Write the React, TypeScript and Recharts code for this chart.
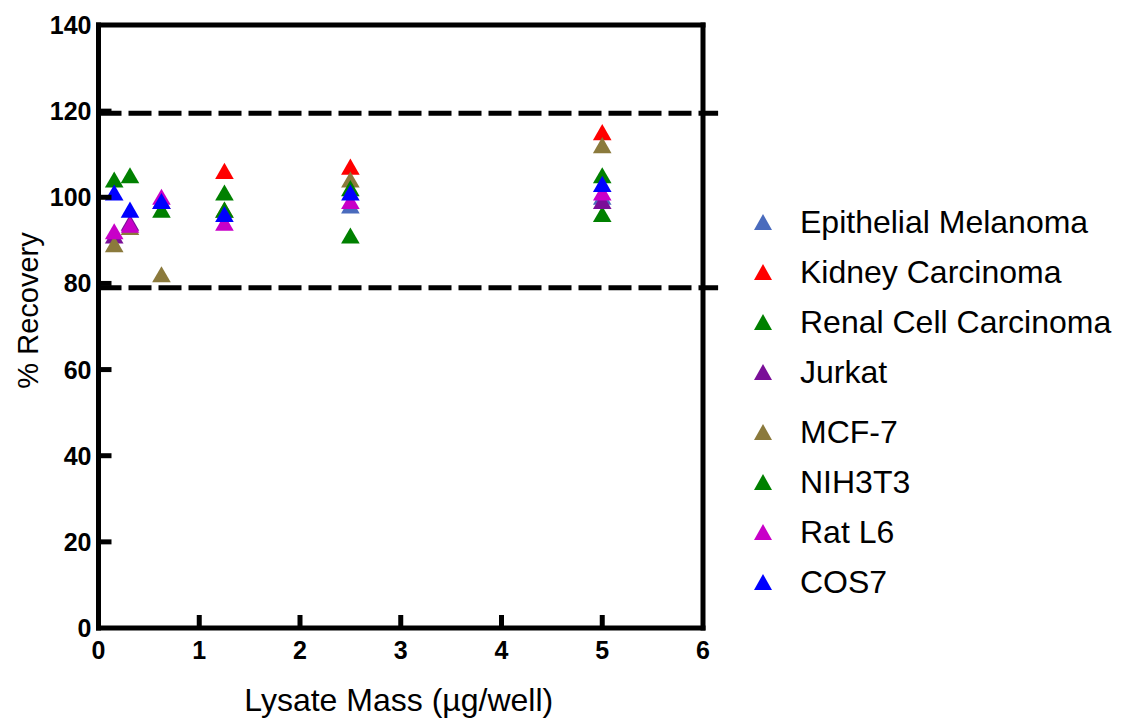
import React from "react";
import {
  ScatterChart,
  Scatter,
  XAxis,
  YAxis,
  Legend,
  ReferenceLine,
  Symbols,
} from "recharts";

// lysate mass per well (µg) used in the dilution series
const masses = [0.156, 0.3125, 0.625, 1.25, 2.5, 5];

const xTicks = [0, 1, 2, 3, 4, 5, 6];
const yTicks = [0, 20, 40, 60, 80, 100, 120, 140];

// acceptance limits drawn as dashed lines
const upperLimit = 119.5;
const lowerLimit = 79;

// % recovery per cell line (null = not measured at that mass)
const epithelialMelanoma = [null, null, null, null, 97.5, 99.5];
const kidneyCarcinoma = [null, null, null, 105.5, 106.5, 114.5];
const renalCellCarcinoma = [null, null, null, 100.5, 90.5, 95.5];
const jurkat = [90.5, 93.5, 98.5, null, null, 98.5];
const mcf7 = [88.5, 92.5, 81.5, 96.5, 103.5, 111.5];
const nih3t3 = [103.5, 104.5, 96.5, 96.5, 101.5, 104.5];
const ratL6 = [91.5, 93, 99.5, 93.5, 98.5, 100.5];
const cos7 = [100.5, 96.5, 98.5, 95.5, 100.5, 102.5];

const series = [
  { name: "Epithelial Melanoma", values: epithelialMelanoma, color: "#4a6bbd" },
  { name: "Kidney Carcinoma", values: kidneyCarcinoma, color: "#ff0000" },
  { name: "Renal Cell Carcinoma", values: renalCellCarcinoma, color: "#008000" },
  { name: "Jurkat", values: jurkat, color: "#7a0f98" },
  { name: "MCF-7", values: mcf7, color: "#8b7a3c" },
  { name: "NIH3T3", values: nih3t3, color: "#008000" },
  { name: "Rat L6", values: ratL6, color: "#c800c8" },
  { name: "COS7", values: cos7, color: "#0000ff" },
];
const seriesOrder = series.map((s) => s.name);

const FONT = "'Liberation Sans', Arial, sans-serif";
const TICK_FONT = "'Liberation Sans Narrow', 'Arial Narrow', 'Liberation Sans', Arial, sans-serif";

const toPoints = (values: (number | null)[]) =>
  masses
    .map((x, i) => ({ x, y: values[i] }))
    .filter((p) => p.y !== null);

// triangle marker, roughly 18px wide like the GraphPad symbols
const Triangle = (props: any) => (
  <Symbols type="triangle" size={150} cx={props.cx} cy={props.cy} fill={props.fill} />
);

const XTick = (props: any) => {
  const { x, y, payload } = props;
  const v = payload.value;
  return (
    <g>
      {v !== 0 && v !== 6 && (
        <line x1={x} y1={y} x2={x} y2={y - 13} stroke="#000" strokeWidth={5} />
      )}
      <text
        x={x}
        y={y + 31}
        textAnchor="middle"
        fontFamily={TICK_FONT}
        fontWeight="bold"
        fontSize={25}
        fill="#000"
      >
        {v}
      </text>
    </g>
  );
};

const YTick = (props: any) => {
  const { x, y, payload } = props;
  const v = payload.value;
  return (
    <g>
      {v !== 0 && v !== 140 && (
        <line x1={x} y1={y} x2={x + 13} y2={y} stroke="#000" strokeWidth={5} />
      )}
      <text
        x={x - 7}
        y={y + 9}
        textAnchor="end"
        fontFamily={TICK_FONT}
        fontWeight="bold"
        fontSize={25}
        fill="#000"
      >
        {v}
      </text>
    </g>
  );
};

const YLabel = (props: any) => {
  const { viewBox } = props;
  const cx = viewBox.x - 11;
  const cy = viewBox.y + viewBox.height / 2 - 16;
  return (
    <text
      x={cx}
      y={cy}
      transform={`rotate(-90 ${cx} ${cy})`}
      textAnchor="middle"
      dominantBaseline="central"
      fontFamily={FONT}
      fontSize={29}
      fill="#000"
    >
      % Recovery
    </text>
  );
};

const XLabel = (props: any) => {
  const { viewBox } = props;
  return (
    <text
      x={viewBox.x + viewBox.width / 2 - 2}
      y={viewBox.y + 72}
      textAnchor="middle"
      dominantBaseline="central"
      fontFamily={FONT}
      fontSize={32}
      fill="#000"
    >
      Lysate Mass (µg/well)
    </text>
  );
};

const LegendContent = (props: any) => {
  const items = [...(props.payload || [])].sort(
    (a: any, b: any) => seriesOrder.indexOf(a.value) - seriesOrder.indexOf(b.value)
  );
  return (
    <div style={{ fontFamily: FONT, fontSize: 32, color: "#000" }}>
      {items.map((entry: any, i: number) => (
        <div
          key={entry.value}
          style={{
            height: 50,
            display: "flex",
            alignItems: "center",
            marginTop: i === 4 ? 10 : 0,
            whiteSpace: "nowrap",
          }}
        >
          <svg width={20} height={18} style={{ marginLeft: 8, marginRight: 27 }}>
            <polygon points="10,1 19,17 1,17" fill={entry.color} />
          </svg>
          <span>{entry.value}</span>
        </div>
      ))}
    </div>
  );
};

export default function App() {
  return (
    <ScatterChart
      width={1117}
      height={712}
      margin={{ top: 17, right: 42, left: 30.5, bottom: 32 }}
    >
      <XAxis
        type="number"
        dataKey="x"
        domain={[0, 6]}
        ticks={xTicks}
        height={60}
        axisLine={{ stroke: "#000", strokeWidth: 5, strokeLinecap: "square" }}
        tickLine={false}
        tickSize={0}
        tickMargin={0}
        tick={<XTick />}
        label={<XLabel />}
      />
      <YAxis
        type="number"
        dataKey="y"
        domain={[0, 140]}
        ticks={yTicks}
        width={60}
        axisLine={{ stroke: "#000", strokeWidth: 5, strokeLinecap: "square" }}
        tickLine={false}
        tickSize={0}
        tickMargin={0}
        tick={<YTick />}
        label={<YLabel />}
      />
      <ReferenceLine y={140} stroke="#000" strokeWidth={5} strokeLinecap="square" />
      <ReferenceLine x={6} stroke="#000" strokeWidth={5} strokeLinecap="square" />
      <ReferenceLine
        segment={[
          { x: 0, y: upperLimit },
          { x: 6.15, y: upperLimit },
        ]}
        ifOverflow="visible"
        stroke="#000"
        strokeWidth={5}
        strokeDasharray="23 7"
      />
      <ReferenceLine
        segment={[
          { x: 0, y: lowerLimit },
          { x: 6.15, y: lowerLimit },
        ]}
        ifOverflow="visible"
        stroke="#000"
        strokeWidth={5}
        strokeDasharray="23 7"
      />
      {series.map((s) => (
        <Scatter
          key={s.name}
          name={s.name}
          data={toPoints(s.values)}
          fill={s.color}
          shape={<Triangle />}
          legendType="triangle"
          isAnimationActive={false}
        />
      ))}
      <Legend
        layout="vertical"
        verticalAlign="top"
        align="right"
        content={<LegendContent />}
        wrapperStyle={{ position: "absolute", left: 737, top: 189, width: 380 }}
      />
    </ScatterChart>
  );
}
